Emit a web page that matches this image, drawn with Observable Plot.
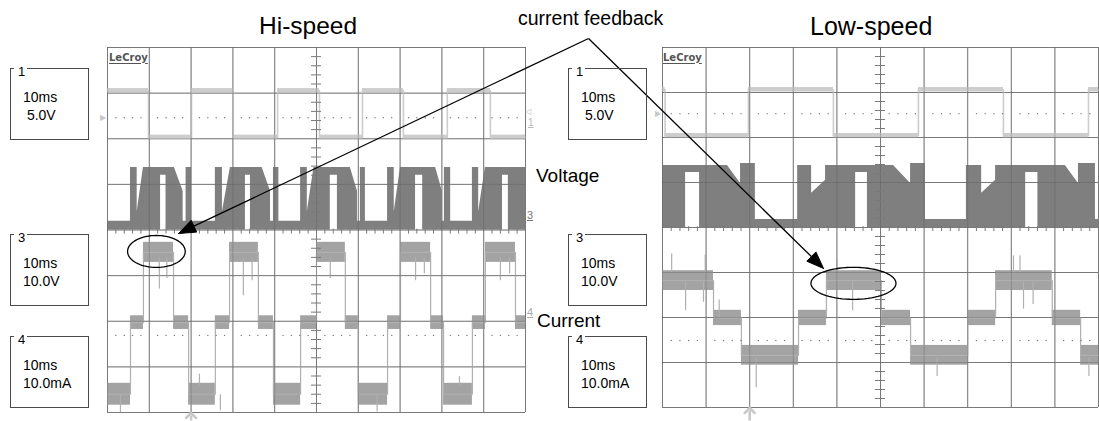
<!DOCTYPE html>
<html><head><meta charset="utf-8">
<script src="https://cdn.jsdelivr.net/npm/d3@7"></script>
<script src="https://cdn.jsdelivr.net/npm/@observablehq/plot@0.6"></script>
<style>
body{margin:0;background:#fff;font-family:"Liberation Sans",Arial,sans-serif;}
#fig{position:relative;width:1099px;height:421px;overflow:hidden;background:#fff}
#fig svg{position:absolute;left:0;top:0}
.t{position:absolute;white-space:nowrap;color:#000;line-height:1}
.box{position:absolute;border:1px solid #4a4a4a;box-sizing:border-box;width:79px;height:72px}
.box .n{position:absolute;left:3px;top:-4px;background:#fff;padding:0 2px 0 4px;font-size:13px;line-height:13px}
.box .v{position:absolute;font-size:14px;line-height:1}
.logo{position:absolute;font-family:"DejaVu Sans",sans-serif;font-weight:bold;font-size:10px;line-height:1;color:#555;text-decoration:underline;text-underline-offset:2px}
.mk{position:absolute;font-size:11px;line-height:1;text-decoration:underline}
</style></head>
<body><div id="fig"></div>
<script>
// ---------- DATA (time in ms at 10 ms/div, level in screen divisions) ----------
// Hi-speed scope, channel 1 (5.0V/div): square wave
const hiCh1Times  = [0, 9.8, 20.1, 30.1, 40.7, 50.7, 61.0, 70.8, 81.3, 91.6, 100];
const hiCh1Levels = [3.05, 2.03, 3.05, 2.03, 3.05, 2.03, 3.05, 2.03, 3.05, 2.03, 2.03];
// Hi-speed scope, channel 3 (voltage PWM envelope) vertices: [t, bottom, top]
const hiVoltage = [
 [0,0,0.19],[5.5,0,0.19],[5.5,0,1.37],[7.1,0,1.37],[7.1,0,0.4],[8.6,0,1.37],[12.7,0,1.37],[12.7,1.2,1.37],[14.0,1.2,1.37],[14.0,0,1.37],[16.0,0,1.37],[18.1,0,0.85],[18.1,0,0.19],[18.8,0,0.19],[18.8,0,1.37],[20.1,0,1.37],[20.1,0,0.19],
 [25.8,0,0.19],[25.8,0,1.37],[27.5,0,1.37],[27.5,0,0.4],[29.4,0,1.37],[33.0,0,1.37],[33.0,1.2,1.37],[34.2,1.2,1.37],[34.2,0,1.37],[37.0,0,1.37],[39.0,0,0.85],[39.0,0,0.19],[39.7,0,0.19],[39.7,0,1.37],[41.0,0,1.37],[41.0,0,0.19],
 [46.2,0,0.19],[46.2,0,1.37],[47.8,0,1.37],[47.8,0,0.4],[49.4,0,1.37],[53.3,0,1.37],[53.3,1.2,1.37],[55.0,1.2,1.37],[55.0,0,1.37],[58.1,0,1.37],[59.8,0,0.85],[59.8,0,0.19],[60.5,0,0.19],[60.5,0,1.37],[61.7,0,1.37],[61.7,0,0.19],
 [67.0,0,0.19],[67.0,0,1.37],[68.6,0,1.37],[68.6,0,0.4],[70.1,0,1.37],[73.7,0,1.37],[73.7,1.2,1.37],[75.4,1.2,1.37],[75.4,0,1.37],[78.5,0,1.37],[80.1,0,0.85],[80.1,0,0.19],[80.6,0,0.19],[80.6,0,1.37],[82.1,0,1.37],[82.1,0,0.19],
 [87.3,0,0.19],[87.3,0,1.37],[88.8,0,1.37],[88.8,0,0.4],[90.4,0,1.37],[94.5,0,1.37],[94.5,1.2,1.37],[95.9,1.2,1.37],[95.9,0,1.37],[100,0,1.37]
];
// Hi-speed scope, channel 4 (current feedback) staircase: segment starts, centre level, half band
const hiCurStart = [0, 5.5, 8.6, 15.8, 19.4, 25.8, 29.2, 36.1, 39.7, 46.2, 50.0, 56.9, 60.0, 67.0, 70.1, 77.3, 80.4, 87.3, 90.4, 97.6];
const hiCurLevel = [-3.6,-2.03,-0.49,-2.03,-3.6,-2.03,-0.49,-2.03,-3.6,-2.03,-0.49,-2.03,-3.6,-2.03,-0.49,-2.03,-3.6,-2.03,-0.49,-2.03];
const hiCurHalf  = [0.24,0.15,0.22,0.15,0.24,0.15,0.22,0.15,0.24,0.15,0.22,0.15,0.24,0.15,0.22,0.15,0.24,0.15,0.22,0.15];
// visible noise spikes on the current trace: [t, from, to]
const hiCurSpikes = [[12.4,-0.6,-1.28],[14.2,-0.6,-1.05],[32.5,-0.6,-1.43],[34.6,-0.6,-1.1],[53.3,-0.6,-1.06],[73.7,-0.6,-1.1],[75.8,-0.6,-0.95],[94.0,-0.6,-1.1],[96.2,-0.6,-0.95],[3.1,-3.6,-4.0],[27.0,-3.6,-3.95],[64.5,-3.6,-3.98],[22.0,-3.4,-3.15],[84.2,-3.4,-3.2]];

// Low-speed scope
const loCh1Times  = [0, 0.6, 19.7, 39.2, 58.7, 78.2, 97.7, 100];
const loCh1Levels = [3.06, 2.04, 3.06, 2.04, 3.06, 2.04, 3.06, 3.06];
const loVoltage = [
 [0,0,1.38],[5.3,0,1.38],[5.3,1.22,1.38],[8.5,1.22,1.38],[8.5,0,1.38],[14.9,0,1.38],[17.9,0,0.98],[17.9,0,1.42],[21.3,0,1.42],[21.3,0,0.18],
 [31.0,0,0.18],[31.0,0,1.38],[34.2,0,1.38],[34.2,0,0.76],[37.4,0,1.05],[37.4,0,1.38],[44.3,0,1.38],[44.3,1.22,1.38],[47.0,1.22,1.38],[47.0,0,1.38],[53.0,0,1.38],[56.9,0,0.98],[56.9,0,1.42],[60.3,0,1.42],[60.3,0,0.18],
 [69.7,0,0.18],[69.7,0,1.38],[73.2,0,1.38],[73.2,0,0.76],[76.4,0,1.05],[76.4,0,1.38],[83.3,0,1.38],[83.3,1.22,1.38],[86.1,1.22,1.38],[86.1,0,1.38],[92.4,0,1.38],[95.4,0,0.98],[95.4,0,1.42],[99.3,0,1.42],[99.3,0,0.18],[100,0,0.18]
];
const loCurStart = [0, 11.7, 18.1, 31.2, 37.6, 50.2, 56.9, 70.0, 76.4, 89.4, 95.9];
const loCurLevel = [-1.18,-2.01,-2.84,-2.01,-1.18,-2.01,-2.84,-2.01,-1.18,-2.01,-2.84];
const loCurHalf  = [0.22,0.17,0.22,0.17,0.22,0.17,0.22,0.17,0.22,0.17,0.22];
const loCurSpikes = [[5.3,-1.2,-1.84],[9.4,-1.2,-1.65],[2.1,-1.0,-0.58],[9.8,-1.0,-0.6],[43.6,-1.2,-1.84],[40.0,-1.0,-0.7],[82.8,-1.2,-1.8],[85.0,-1.2,-1.7],[80.5,-1.0,-0.62],[82.0,-1.0,-0.62],[21.5,-2.9,-3.55],[63.0,-2.9,-3.3],[97.8,-2.9,-3.3],[13.0,-2.0,-1.6]];

// Grid (10 x 8 divisions)
const gridX = [0,10,20,30,40,50,60,70,80,90,100];
const gridY = [-4,-3,-2,-1,0,1,2,3,4];

// ---------- DRAWING ----------
const W = 1099, H = 421;
const C1 = "#cdcdcd", C3 = "#7f7f7f", C4 = "#a3a3a3", GRID = "#8c8c8c";

function scope(cfg) {
  const kx = (W - cfg.ml - cfg.mr) / 100, ky = (H - cfg.mt - cfg.mb) / 8;
  const toPx = (t, v) => [cfg.ml + t * kx, cfg.mt + (4 - v) * ky];
  const toData = (px, py) => [(px - cfg.ml) / kx, 4 - (py - cfg.mt) / ky];
  const [ox, oy] = toPx(...cfg.arrowFrom), [tx, ty] = toPx(...cfg.arrowTo);
  const len = Math.hypot(tx - ox, ty - oy), ux = (tx - ox) / len, uy = (ty - oy) / len;
  const L = 17, hw = 6.5, bx = tx - ux * L, by = ty - uy * L;
  const head = [[tx, ty], [bx - uy * hw, by + ux * hw], [bx + uy * hw, by - ux * hw], [tx, ty]].map(p => toData(...p));
  const shaftEnd = toData(bx, by);
  const [ecx, ecy, erx, ery] = cfg.ellipse;
  const ell = d3.range(0, 73).map(i => { const a = i / 72 * 2 * Math.PI; return [ecx + erx * Math.cos(a), ecy + ery * Math.sin(a)]; });
  const ch1 = cfg.ch1T.map((t, i) => ({t, v: cfg.ch1V[i]}));
  const ch1Seg = cfg.ch1T.slice(0, -1).map((t, i) => ({x1: t, x2: cfg.ch1T[i + 1], v: cfg.ch1V[i]}));
  const cur = cfg.curS.map((s, i) => ({x1: s, x2: i + 1 < cfg.curS.length ? cfg.curS[i + 1] : 100, c: cfg.curL[i], h: cfg.curH[i]}));
  const curLine = cur.map(d => ({t: d.x1, v: d.c})).concat([{t: 100, v: cur[cur.length - 1].c}]);
  const dotsX = d3.range(2, 100, 2).filter(x => x % 10 !== 0);
  const minorY = d3.range(-19, 20).map(i => i / 5).filter(v => Math.abs(v % 1) > 1e-6);
  const minorX = d3.range(1, 50).map(i => i * 2).filter(v => v % 10 !== 0);
  const wx = 5 / kx;
  const trig = [toData(0, H - 1)[1], toData(0, cfg.mt + 8 * ky + 3)[1]];
  return Plot.plot({
    width: W, height: H,
    marginLeft: cfg.ml, marginRight: cfg.mr, marginTop: cfg.mt, marginBottom: cfg.mb,
    x: {domain: [0, 100], axis: null},
    y: {domain: [-4, 4], axis: null},
    style: {background: "transparent", overflow: "visible"},
    marks: [
      Plot.ruleX(gridX, {stroke: GRID, strokeWidth: 1}),
      Plot.ruleY(gridY, {stroke: GRID, strokeWidth: 1}),
      Plot.areaY(cfg.volt, {x: d => d[0], y1: d => d[1], y2: d => d[2], fill: C3, curve: "linear"}),
      Plot.rect(cur, {x1: "x1", x2: "x2", y1: d => d.c - d.h, y2: d => d.c + d.h, fill: C4}),
      Plot.line(curLine, {x: "t", y: "v", curve: "step-after", stroke: "#b0b0b0", strokeWidth: 1.2}),
      Plot.link(cfg.spikes, {x1: d => d[0], x2: d => d[0], y1: d => d[1], y2: d => d[2], stroke: "#b0b0b0", strokeWidth: 1.2}),
      Plot.rect(ch1Seg, {x1: "x1", x2: "x2", y1: d => d.v - 0.05, y2: d => d.v + 0.05, fill: C1}),
      Plot.line(ch1, {x: "t", y: "v", curve: "step-after", stroke: C1, strokeWidth: 1.6}),
      Plot.ruleX(gridX, {stroke: "#505050", strokeOpacity: 0.3}),
      Plot.ruleY(gridY, {stroke: "#505050", strokeOpacity: 0.3}),
      Plot.ruleY(minorY, {x1: 50 - wx, x2: 50 + wx, stroke: "#7a7a7a"}),
      Plot.ruleX(minorX, {y1: -0.09, y2: 0.02, stroke: "#7a7a7a"}),
      Plot.dot(dotsX, {x: d => d, y: cfg.ref1, r: 0.7, fill: "#777", stroke: null}),
      Plot.dot(dotsX, {x: d => d, y: cfg.ref4, r: 0.7, fill: "#777", stroke: null}),
      Plot.text([cfg.ref1], {x: 0, y: d => d, text: () => "▶", dx: -5, fontSize: 8, fill: "#c8c8c8"}),
      Plot.link([20], {x1: d => d, x2: d => d, y1: trig[0], y2: trig[1], stroke: "#c8c8c8", strokeWidth: 2.5, markerEnd: "arrow"}),
      Plot.line(ell, {x: d => d[0], y: d => d[1], stroke: "black", strokeWidth: 1.3, curve: "linear"}),
      Plot.link([0], {x1: cfg.arrowFrom[0], y1: cfg.arrowFrom[1], x2: shaftEnd[0], y2: shaftEnd[1], stroke: "black", strokeWidth: 1.3}),
      Plot.line(head, {x: d => d[0], y: d => d[1], fill: "black", stroke: "black", strokeWidth: 1, curve: "linear"})
    ]
  });
}

const fig = document.getElementById("fig");
fig.appendChild(scope({
  ml: 107, mr: 574, mt: 47, mb: 9,
  ch1T: hiCh1Times, ch1V: hiCh1Levels, volt: hiVoltage,
  curS: hiCurStart, curL: hiCurLevel, curH: hiCurHalf, spikes: hiCurSpikes,
  ref1: 2.46, ref4: -2.31,
  ellipse: [11.7, -0.47, 6.9, 0.35],
  arrowFrom: [115.07, 4.197], arrowTo: [17.0, -0.077]
}));
fig.appendChild(scope({
  ml: 662, mr: 1, mt: 47, mb: 14,
  ch1T: loCh1Times, ch1V: loCh1Levels, volt: loVoltage,
  curS: loCurStart, curL: loCurLevel, curH: loCurHalf, spikes: loCurSpikes,
  ref1: 2.53, ref4: -2.51,
  ellipse: [43.8, -1.24, 9.75, 0.356],
  arrowFrom: [-16.97, 4.2], arrowTo: [36.93, -0.91]
}));

function text(s, x, top, fs, cls = "t", extra = "") {
  const d = document.createElement("div");
  d.className = cls; d.textContent = s;
  d.style.cssText = `left:${x}px;top:${top}px;font-size:${fs}px;${extra}`;
  fig.appendChild(d); return d;
}
text("Hi-speed", 259, 13.5, 24.5);
text("Low-speed", 810, 14, 25);
text("current feedback", 518, 8.5, 19.5);
text("Voltage", 536, 166, 19);
text("Current", 537, 311, 19);
text("LeCroy", 109, 52.5, 10, "logo");
text("LeCroy", 663, 52.5, 10, "logo");
text("3", 527, 210, 11, "mk", "color:#777");
text("4", 527, 307, 11, "mk", "color:#aaa");
text("◁", 525, 108, 8, "mk", "color:#bbb;text-decoration:none");
text("1", 528, 118, 10, "mk", "color:#bbb");

const boxNames = ["1", "3", "4"];
const boxTime = ["10ms", "10ms", "10ms"];
const boxScale = [" 5.0V", "10.0V", "10.0mA"];
const boxTops = [68, 234, 336];
[10, 568].forEach(bx => {
  boxTops.forEach((top, i) => {
    const b = document.createElement("div");
    b.className = "box";
    b.style.left = bx + "px"; b.style.top = top + "px";
    b.innerHTML = `<span class="n">${boxNames[i]}</span>` +
      `<span class="v" style="left:12px;top:21px">${boxTime[i]}</span>` +
      `<span class="v" style="left:12px;top:39px;white-space:pre">${boxScale[i]}</span>`;
    fig.appendChild(b);
  });
});
</script></body></html>
